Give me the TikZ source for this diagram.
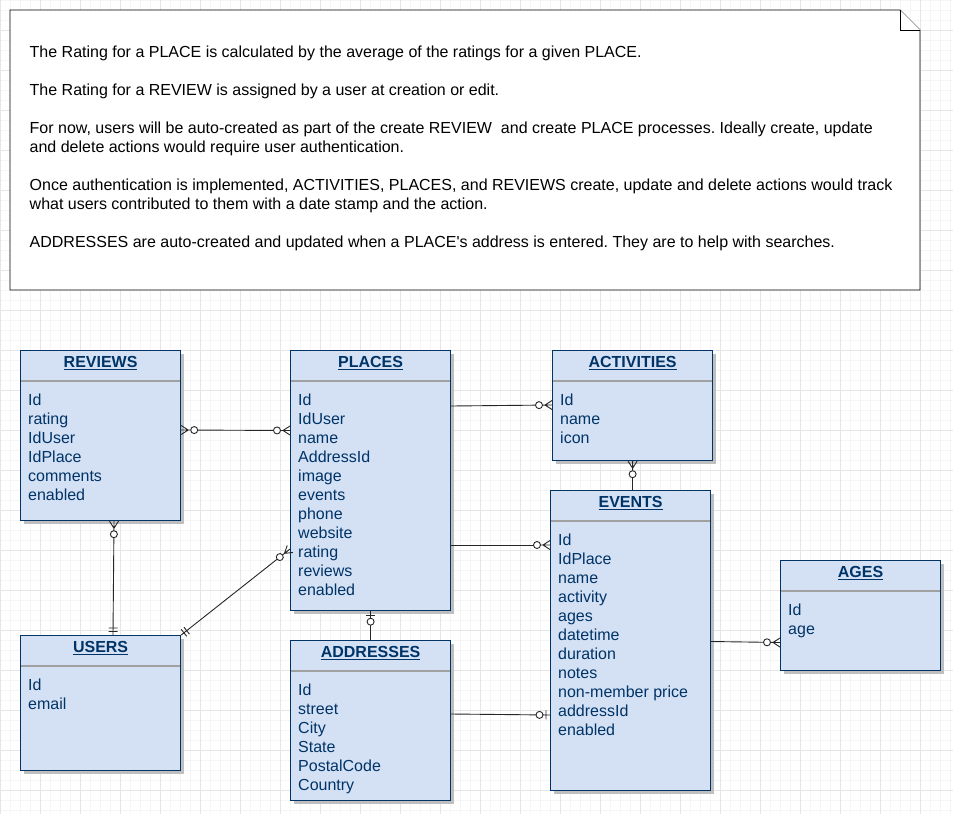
\documentclass[tikz,border=0pt]{standalone}
\usepackage{fontspec}
\setmainfont{Liberation Sans}
\usetikzlibrary{positioning,shadows}
\frenchspacing

\definecolor{erfill}{HTML}{D4E1F5}
\definecolor{erline}{HTML}{003366}
\definecolor{sepgray}{HTML}{A0A0A0}

\pgfdeclarearrow{
  name = crowzm,
  setup code = {
    \pgfarrowssettipend{0pt}
    \pgfarrowssetlineend{-16.5pt}
    \pgfarrowssetbackend{-16.5pt}
    \pgfarrowsupperhullpoint{0pt}{4.5pt}
    \pgfarrowsupperhullpoint{-16.5pt}{3.5pt}
  },
  drawing code = {
    \pgfsetdash{}{0pt}
    \pgfpathmoveto{\pgfqpoint{0pt}{4.5pt}}
    \pgfpathlineto{\pgfqpoint{-7pt}{0pt}}
    \pgfpathlineto{\pgfqpoint{0pt}{-4.5pt}}
    \pgfpathmoveto{\pgfqpoint{0pt}{0pt}}
    \pgfpathlineto{\pgfqpoint{-9.5pt}{0pt}}
    \pgfusepathqstroke
    \pgfpathcircle{\pgfqpoint{-13pt}{0pt}}{3.5pt}
    \pgfsetfillcolor{white}
    \pgfusepathqfillstroke
  }
}
\pgfdeclarearrow{
  name = crowzo,
  setup code = {
    \pgfarrowssettipend{0pt}
    \pgfarrowssetlineend{-14pt}
    \pgfarrowssetbackend{-14pt}
    \pgfarrowsupperhullpoint{0pt}{4.5pt}
    \pgfarrowsupperhullpoint{-14pt}{3.5pt}
  },
  drawing code = {
    \pgfsetdash{}{0pt}
    \pgfpathmoveto{\pgfqpoint{-4pt}{4.5pt}}
    \pgfpathlineto{\pgfqpoint{-4pt}{-4.5pt}}
    \pgfpathmoveto{\pgfqpoint{0pt}{0pt}}
    \pgfpathlineto{\pgfqpoint{-7pt}{0pt}}
    \pgfusepathqstroke
    \pgfpathcircle{\pgfqpoint{-10.5pt}{0pt}}{3.5pt}
    \pgfsetfillcolor{white}
    \pgfusepathqfillstroke
  }
}
\pgfdeclarearrow{
  name = crowmo,
  setup code = {
    \pgfarrowssettipend{0pt}
    \pgfarrowssetlineend{0pt}
    \pgfarrowssetbackend{-7pt}
    \pgfarrowsupperhullpoint{0pt}{4.5pt}
    \pgfarrowsupperhullpoint{-7pt}{4.5pt}
  },
  drawing code = {
    \pgfsetdash{}{0pt}
    \pgfpathmoveto{\pgfqpoint{-3.5pt}{4.5pt}}
    \pgfpathlineto{\pgfqpoint{-3.5pt}{-4.5pt}}
    \pgfpathmoveto{\pgfqpoint{-7pt}{4.5pt}}
    \pgfpathlineto{\pgfqpoint{-7pt}{-4.5pt}}
    \pgfusepathqstroke
  }
}

\tikzset{
  entity/.style={draw=erline, fill=erfill, line width=1.2pt, minimum width=160pt,
    inner sep=0pt, anchor=north west,
    drop shadow={shadow xshift=3pt, shadow yshift=-3pt, fill=black!25, opacity=1}},
  entitle/.style={font=\fontsize{16}{19}\selectfont\bfseries, text=erline, inner sep=0pt},
  fields/.style={font=\fontsize{16}{19}\selectfont, text=erline, align=left, inner sep=0pt},
  sepline/.style={draw=sepgray, line width=1.2pt},
  notebox/.style={draw=black, line width=0.9pt, fill=white},
  notetext/.style={font=\fontsize{16}{19}\selectfont, align=left, inner sep=0pt},
  rel/.style={line width=0.9pt, draw=black!85},
}

\begin{document}
\begin{tikzpicture}[x=1pt, y=-1pt]
  \useasboundingbox (0,0) rectangle (953,814);
  \draw[black!4, line width=0.5pt, step=10pt] (0,0) grid (953,814);
  \draw[black!10, line width=0.8pt, step=40pt, yshift=10pt] (0,10) grid (953,824);

  \draw[notebox] (10,10) -- (900,10) -- (920,30) -- (920,290) -- (10,290) -- cycle;
  \draw[notebox] (900,10) -- (900,30) -- (920,30);
  \node[notetext, anchor=north west] (note) at (29.5,45.5) {%
    The Rating for a PLACE is calculated by the average of the ratings for a given PLACE.\\[19pt]
    The Rating for a REVIEW is assigned by a user at creation or edit.\\[19pt]
    For now, users will be auto-created as part of the create REVIEW~ and create PLACE processes. Ideally create, update\\
    and delete actions would require user authentication.\\[19pt]
    Once authentication is implemented, ACTIVITIES, PLACES, and REVIEWS create, update and delete actions would track\\
    what users contributed to them with a date stamp and the action.\\[19pt]
    ADDRESSES are auto-created and updated when a PLACE\textquotesingle s address is entered. They are to help with searches.};

  \draw
    (20,350) node[entity, minimum height=170pt] (reviews) {}
    (290,350) node[entity, minimum height=260pt] (places) {}
    (552,350) node[entity, minimum height=110pt] (activities) {}
    (550,490) node[entity, minimum height=300pt] (events) {}
    (780,560) node[entity, minimum height=110pt] (ages) {}
    (20,635) node[entity, minimum height=135pt] (users) {}
    (290,640) node[entity, minimum height=160pt] (addresses) {};

  \node[entitle, below=6pt of reviews.north] (reviews-t) {\underline{REVIEWS}};
  \node[entitle, below=6pt of places.north] (places-t) {\underline{PLACES}};
  \node[entitle, below=6pt of activities.north] (activities-t) {\underline{ACTIVITIES}};
  \node[entitle, below=6pt of events.north] (events-t) {\underline{EVENTS}};
  \node[entitle, below=6pt of ages.north] (ages-t) {\underline{AGES}};
  \node[entitle, below=6pt of users.north] (users-t) {\underline{USERS}};
  \node[entitle, below=6pt of addresses.north] (addresses-t) {\underline{ADDRESSES}};

  \foreach \e in {reviews,places,activities,events,ages,users,addresses}
    \draw[sepline] ([shift={(1,31)}]\e.north west) -- ([shift={(-1,31)}]\e.north east);

  \node[fields, below right=44pt and 8pt of reviews.north west] (reviews-f)
    {Id\\rating\\IdUser\\IdPlace\\comments\\enabled};
  \node[fields, below right=44pt and 8pt of places.north west] (places-f)
    {Id\\IdUser\\name\\AddressId\\image\\events\\phone\\website\\rating\\reviews\\enabled};
  \node[fields, below right=44pt and 8pt of activities.north west] (activities-f)
    {Id\\name\\icon};
  \node[fields, below right=44pt and 8pt of events.north west] (events-f)
    {Id\\IdPlace\\name\\activity\\ages\\datetime\\duration\\notes\\non-member price\\addressId\\enabled};
  \node[fields, below right=44pt and 8pt of ages.north west] (ages-f)
    {Id\\age};
  \node[fields, below right=44pt and 8pt of users.north west] (users-f)
    {Id\\email};
  \node[fields, below right=44pt and 8pt of addresses.north west] (addresses-f)
    {Id\\street\\City\\State\\PostalCode\\Country};

  \begin{scope}[rel]
    \draw[crowzm-crowzm] ([shift={(0,80)}]reviews.north east) -- ([shift={(0,80.5)}]places.north west);
    \draw[crowzm-crowmo] ([shift={(94,0)}]reviews.south west) -- ([shift={(93,0)}]users.north west);
    \draw[crowzm-crowmo] ([shift={(0,199)}]places.north west) -- (users.north east);
    \draw[-crowzm] ([shift={(0,56)}]places.north east) -- ([shift={(0,55)}]activities.north west);
    \draw[-crowzm] ([shift={(0,195)}]places.north east) -- ([shift={(0,55)}]events.north west);
    \draw[crowzo-] (places.south) -- (addresses.north);
    \draw[crowzm-] (activities.south) -- (activities.south |- events.north);
    \draw[-crowzm] ([shift={(0,151.5)}]events.north east) -- ([shift={(0,82.5)}]ages.north west);
    \draw[-crowzo] ([shift={(0,74)}]addresses.north east) -- ([shift={(0,225)}]events.north west);
  \end{scope}
\end{tikzpicture}
\end{document}
